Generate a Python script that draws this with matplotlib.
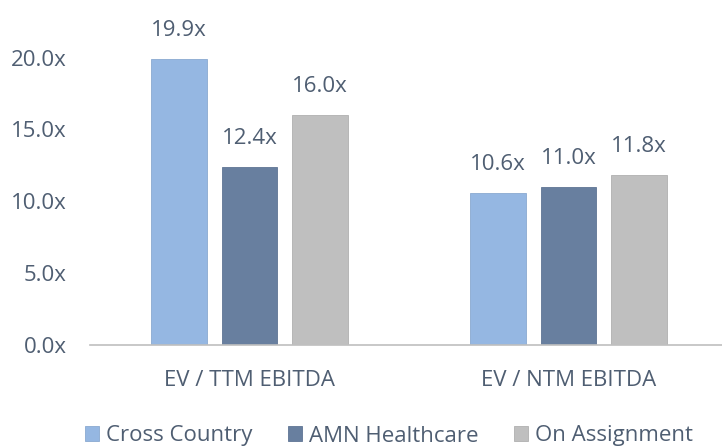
import matplotlib
matplotlib.use("Agg")
import matplotlib.pyplot as plt
import numpy as np

categories = ["EV / TTM EBITDA", "EV / NTM EBITDA"]
series_names = ["Cross Country", "AMN Healthcare", "On Assignment"]
cross_country = [19.9, 10.6]
amn_healthcare = [12.4, 11.0]
on_assignment = [16.0, 11.8]
y_ticks = [0, 5, 10, 15, 20]

colors = ["#95b7e2", "#687f9f", "#bfbfbf"]
edges = ["#8aa9d0", "#5f7594", "#b0b0b0"]
text_color = "#4f5e72"
fs = 16

plt.rcParams['font.family'] = ['Open Sans', 'DejaVu Sans']

fig = plt.figure(figsize=(7.22, 4.47), dpi=100)
ax = fig.add_axes([90/722, 102/447, 632/722, 345/447])

x = np.arange(len(categories))
width = 0.1755
step = 0.221
handles = []
for i, (vals, name) in enumerate(zip([cross_country, amn_healthcare, on_assignment], series_names)):
    pos = x + (i - 1) * step
    b = ax.bar(pos, vals, width, color=colors[i], edgecolor=edges[i], linewidth=0.6, label=name)
    handles.append(b)
    for p, v in zip(pos, vals):
        ax.annotate(f"{v:.1f}x", (p, v), xytext=(0, 13), textcoords="offset points",
                    ha="center", va="bottom", fontsize=fs, color=text_color)

ax.set_xlim(-0.5, 1.5 - 6/319)
ax.set_ylim(0, 24)
ax.set_yticks(y_ticks)
ax.set_yticklabels([f"{t:.1f}x" for t in y_ticks])
ax.set_xticks(x)
ax.set_xticklabels(categories)
ax.tick_params(axis='y', length=0, pad=17, labelsize=fs, labelcolor=text_color)
ax.tick_params(axis='x', length=0, pad=18, labelsize=fs, labelcolor=text_color)
for s in ["top", "right", "left"]:
    ax.spines[s].set_visible(False)
ax.spines["bottom"].set_color("#bfbfbf")
ax.spines["bottom"].set_linewidth(1.2)

leg = fig.legend(handles=handles, labels=series_names, loc="center",
                 bbox_to_anchor=(389/722, 1 - 436/447), ncol=3, frameon=False,
                 fontsize=fs, handlelength=0.65, handleheight=0.65,
                 handletextpad=0.3, columnspacing=1.6, labelcolor=text_color)

fig.savefig("out.png", dpi=100)
